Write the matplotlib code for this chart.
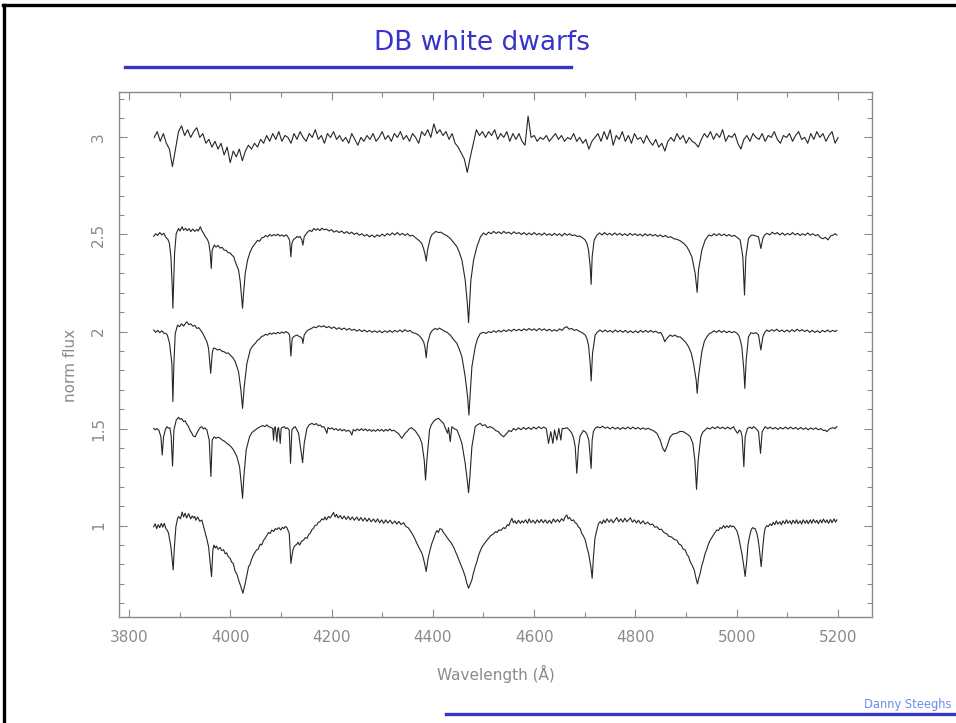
import numpy as np
import matplotlib
matplotlib.use("Agg")
import matplotlib.pyplot as plt
from matplotlib.ticker import MultipleLocator, FuncFormatter
from matplotlib.lines import Line2D

# Normalised DB white dwarf spectra (continuum = 1), stacked with vertical offsets.
# Noisy top star on an even grid, 3850-5200 A
flux_a = [
    1.00, 1.03, 0.98, 1.02, 0.97, 0.94, 0.85, 0.94, 1.03, 1.06,
    1.01, 1.04, 1.00, 1.03, 1.05, 1.00, 1.02, 0.97, 0.99, 0.95,
    0.98, 0.94, 0.97, 0.91, 0.95, 0.87, 0.93, 0.90, 0.94, 0.88,
    0.93, 0.96, 0.94, 0.97, 0.95, 0.99, 0.97, 1.01, 0.98, 1.02,
    0.99, 1.03, 0.98, 1.01, 1.00, 0.97, 1.02, 0.99, 1.03, 1.00,
    0.98, 1.02, 1.00, 1.04, 0.99, 1.01, 0.97, 1.02, 1.00, 1.03,
    0.99, 1.01, 0.98, 1.00, 0.97, 1.02, 0.99, 0.96, 1.00, 0.98,
    1.01, 0.99, 1.02, 0.98, 1.00, 1.03, 0.99, 1.01, 0.98, 1.02,
    1.00, 1.03, 0.99, 1.01, 0.98, 1.02, 1.00, 0.97, 1.03, 1.01,
    1.04, 1.00, 1.07, 1.02, 1.04, 1.01, 1.03, 0.99, 1.02, 0.97,
    0.95, 0.92, 0.89, 0.82, 0.90, 0.97, 1.04, 1.01, 1.03, 1.00,
    1.03, 1.01, 1.04, 0.99, 1.02, 1.00, 1.03, 0.98, 1.02, 0.99,
    1.02, 0.98, 0.96, 1.11, 1.00, 1.01, 0.98, 1.00, 0.99, 1.01,
    0.98, 1.00, 1.02, 0.99, 1.01, 0.98, 1.00, 0.99, 1.02, 0.98,
    1.00, 0.97, 0.99, 0.94, 0.98, 1.00, 1.02, 0.98, 1.03, 0.99,
    1.04, 0.96, 1.01, 0.99, 1.03, 0.98, 1.01, 0.97, 1.02, 0.99,
    1.00, 0.97, 1.01, 0.98, 0.96, 0.99, 0.95, 0.97, 0.93, 0.98,
    1.00, 0.98, 1.02, 0.99, 1.01, 0.97, 1.00, 0.98, 0.97, 0.95,
    0.99, 1.02, 1.00, 1.03, 0.99, 1.02, 1.00, 1.04, 0.98, 1.01,
    1.00, 1.02, 0.97, 0.94, 0.99, 1.01, 0.98, 1.02, 1.00, 0.99,
    1.02, 0.98, 1.01, 1.00, 1.03, 0.99, 0.97, 1.01, 1.00, 1.02,
    0.98, 1.01, 1.03, 0.99, 1.00, 0.97, 1.02, 0.99, 1.03, 1.00,
    1.02, 0.98, 1.01, 1.03, 0.97, 1.00,
]
wave_a = np.linspace(3850, 5200, len(flux_a))

# (wavelength, flux) vertices for the four cleaner stars
spec_b = [
    (3849, 0.990), (3853, 1.004), (3857, 0.995), (3861, 1.010), (3865, 0.998),
    (3869, 1.006), (3873, 0.985), (3877, 0.975), (3880, 0.955), (3883, 0.885),
    (3885.6, 0.731), (3886.9, 0.620), (3888.2, 0.731), (3890.2, 0.903), (3893.5, 1.006),
    (3898, 1.031), (3901, 1.018), (3905, 1.040), (3908, 1.022), (3912, 1.032),
    (3915, 1.020), (3919, 1.030), (3922, 1.015), (3926, 1.028), (3930, 1.016),
    (3934, 1.026), (3937, 1.018), (3941, 1.040), (3944, 1.020), (3947, 1.008),
    (3951, 0.988), (3955, 0.975), (3958, 0.954), (3960.6, 0.903), (3962.6, 0.825),
    (3964.5, 0.920), (3968.5, 0.946), (3972, 0.935), (3976, 0.944), (3980, 0.930),
    (3984, 0.934), (3988, 0.920), (3992, 0.918), (3996, 0.906), (4000, 0.905),
    (4004, 0.892), (4007, 0.886), (4010, 0.860), (4016.5, 0.817), (4019.8, 0.757),
    (4023.1, 0.662), (4024.4, 0.620), (4026.4, 0.697), (4029.7, 0.800), (4034.3, 0.868),
    (4039.5, 0.911), (4044, 0.935), (4049.4, 0.954), (4054, 0.970), (4058, 0.965),
    (4062, 0.982), (4066, 0.985), (4070, 0.995), (4074, 0.988), (4078, 1.000),
    (4082, 0.992), (4086, 1.000), (4090, 0.994), (4094, 1.002), (4098, 0.992),
    (4102, 0.998), (4106, 0.990), (4110, 0.998), (4113, 0.992), (4117.2, 0.971),
    (4119.8, 0.885), (4121.8, 0.954), (4125, 0.975), (4128.4, 0.980), (4132, 0.990),
    (4135, 0.985), (4138, 0.990), (4141.5, 0.971), (4143.5, 0.945), (4146.1, 0.988),
    (4149, 1.000), (4152, 1.010), (4157, 1.022), (4161, 1.015), (4165, 1.031),
    (4169, 1.022), (4173, 1.030), (4177, 1.020), (4181, 1.033), (4185, 1.024),
    (4190, 1.028), (4195, 1.018), (4200, 1.025), (4205, 1.012), (4210, 1.020),
    (4215, 1.010), (4220, 1.018), (4225, 1.006), (4230, 1.015), (4235, 1.004),
    (4240, 1.012), (4245, 1.000), (4250, 1.008), (4255, 0.996), (4260, 1.004),
    (4265, 0.992), (4270, 1.000), (4275, 0.988), (4280, 0.997), (4285, 0.986),
    (4290, 0.998), (4295, 0.990), (4300, 1.002), (4305, 0.992), (4310, 1.005),
    (4315, 0.996), (4320, 1.008), (4325, 0.998), (4330, 1.010), (4335, 0.997),
    (4340, 1.006), (4345, 0.995), (4350, 1.004), (4355, 0.992), (4360, 0.996),
    (4365, 0.985), (4371.8, 0.971), (4378, 0.955), (4381.7, 0.928), (4384.5, 0.900),
    (4386.9, 0.863), (4389.6, 0.920), (4394.9, 0.980), (4398, 0.998), (4401.4, 1.006),
    (4406, 1.016), (4411.3, 1.010), (4416, 1.012), (4421.2, 1.002), (4427, 0.995),
    (4434.3, 0.980), (4440, 0.962), (4447.5, 0.937), (4452, 0.910), (4457.4, 0.868),
    (4463.9, 0.765), (4468.6, 0.628), (4470.5, 0.546), (4472.5, 0.645), (4475.1, 0.765),
    (4480.4, 0.868), (4487.0, 0.937), (4494, 0.988), (4500, 1.008), (4505, 0.998),
    (4510, 1.012), (4515, 1.004), (4520, 1.016), (4525, 1.006), (4530, 1.014),
    (4535, 1.004), (4540, 1.016), (4545, 1.006), (4550, 1.012), (4555, 1.002),
    (4560, 1.014), (4565, 1.004), (4570, 1.010), (4575, 1.000), (4580, 1.010),
    (4585, 0.998), (4590, 1.008), (4595, 0.998), (4600, 1.010), (4605, 0.998),
    (4610, 1.006), (4615, 0.996), (4620, 1.008), (4625, 0.996), (4630, 1.004),
    (4635, 0.994), (4640, 1.006), (4645, 0.995), (4650, 1.004), (4655, 0.992),
    (4660, 1.006), (4665, 0.996), (4670, 1.004), (4675, 0.994), (4680, 0.998),
    (4685, 0.990), (4690, 0.992), (4694, 0.985), (4698, 0.978), (4700.7, 0.971),
    (4704, 0.955), (4707.3, 0.920), (4710.6, 0.834), (4712.5, 0.743), (4714.5, 0.885),
    (4718.4, 0.971), (4724, 0.997), (4729, 1.008), (4734, 0.998), (4739, 1.010),
    (4744, 0.998), (4749, 1.006), (4754, 0.996), (4759, 1.008), (4764, 0.997),
    (4769, 1.006), (4774, 0.995), (4779, 1.004), (4784, 0.994), (4789, 1.006),
    (4794, 0.996), (4799, 1.004), (4804, 0.994), (4809, 1.002), (4814, 0.992),
    (4819, 1.004), (4824, 0.994), (4829, 1.002), (4834, 0.992), (4839, 1.000),
    (4844, 0.990), (4849, 0.998), (4854, 0.988), (4859, 0.995), (4864, 0.985),
    (4870, 0.988), (4876, 0.978), (4882, 0.975), (4888, 0.968), (4895, 0.955),
    (4901.4, 0.937), (4906, 0.915), (4911.3, 0.885), (4917.8, 0.800), (4921.8, 0.702),
    (4924.4, 0.817), (4931.0, 0.920), (4937.6, 0.971), (4940, 0.980), (4945, 0.998),
    (4950, 0.992), (4955, 1.004), (4960, 0.994), (4965, 1.004), (4970, 0.994),
    (4975, 1.002), (4980, 0.992), (4985, 1.000), (4990, 0.990), (4995, 0.996),
    (5000, 0.986), (5004, 0.978), (5006.7, 0.971), (5011.9, 0.885), (5015.2, 0.688),
    (5017.8, 0.885), (5023.1, 0.980), (5028, 0.995), (5033, 0.997), (5038, 0.992),
    (5042.9, 0.988), (5047.5, 0.928), (5051.4, 0.980), (5055, 0.998), (5060, 1.006),
    (5065, 0.998), (5070, 1.012), (5075, 1.002), (5080, 1.010), (5085, 0.998),
    (5090, 1.008), (5095, 0.996), (5100, 1.006), (5105, 0.998), (5110, 1.010),
    (5115, 0.998), (5120, 1.006), (5125, 0.995), (5130, 1.004), (5135, 0.996),
    (5140, 1.008), (5145, 0.996), (5150, 1.004), (5155, 0.994), (5160, 1.000),
    (5165, 0.984), (5170, 0.978), (5175, 0.985), (5180, 0.972), (5185, 0.992),
    (5190, 0.997), (5194, 1.004), (5197.5, 0.997),
]

spec_c = [
    (3849, 1.008), (3853, 0.996), (3857, 1.006), (3861, 0.994), (3865, 1.004),
    (3869, 0.992), (3873, 0.990), (3876, 0.982), (3880.3, 0.939), (3884.9, 0.836),
    (3886.9, 0.639), (3888.9, 0.836), (3891.5, 0.990), (3896.1, 1.033), (3900, 1.025),
    (3904, 1.040), (3908, 1.028), (3911, 1.040), (3914.5, 1.050), (3918, 1.036),
    (3922, 1.040), (3926, 1.028), (3930, 1.032), (3934.3, 1.016), (3938, 1.020),
    (3942, 1.006), (3946, 0.990), (3950.7, 0.965), (3954, 0.948), (3957.3, 0.913),
    (3961.5, 0.785), (3964.5, 0.887), (3967, 0.915), (3970.5, 0.913), (3975, 0.905),
    (3980, 0.908), (3984, 0.898), (3988, 0.896), (3992, 0.888), (3996, 0.890),
    (4000.1, 0.879), (4005, 0.866), (4009.9, 0.845), (4016.5, 0.793), (4021.1, 0.699),
    (4024.4, 0.604), (4027.7, 0.716), (4033.0, 0.836), (4039.5, 0.905), (4044, 0.925),
    (4049.4, 0.939), (4054, 0.955), (4058, 0.962), (4062, 0.975), (4066, 0.978),
    (4070, 0.986), (4074, 0.982), (4078, 0.992), (4082, 0.986), (4086, 0.994),
    (4090, 0.988), (4094, 0.996), (4098, 0.990), (4102, 0.998), (4106, 0.992),
    (4110, 1.000), (4114, 0.994), (4117.2, 0.982), (4119.8, 0.874), (4122.4, 0.965),
    (4126, 0.975), (4131.7, 0.982), (4136, 0.975), (4140, 0.970), (4142.2, 0.962),
    (4143.5, 0.939), (4146.1, 0.982), (4150, 0.998), (4155, 1.010), (4160, 1.015),
    (4165, 1.024), (4170, 1.020), (4175, 1.030), (4180, 1.024), (4185, 1.030),
    (4190, 1.020), (4195, 1.026), (4200, 1.016), (4205, 1.024), (4210, 1.012),
    (4215, 1.020), (4220, 1.010), (4225, 1.018), (4230, 1.008), (4235, 1.016),
    (4240, 1.006), (4245, 1.012), (4250, 1.002), (4255, 1.010), (4260, 1.000),
    (4265, 1.008), (4270, 0.998), (4275, 1.006), (4280, 0.996), (4285, 1.004),
    (4290, 0.996), (4295, 1.004), (4300, 0.994), (4305, 1.004), (4310, 0.996),
    (4315, 1.006), (4320, 0.996), (4325, 1.006), (4330, 0.998), (4335, 1.008),
    (4340, 0.998), (4345, 1.010), (4350, 1.000), (4355, 1.006), (4360, 0.994),
    (4365, 0.992), (4371.8, 0.982), (4377, 0.968), (4381.7, 0.948), (4384.5, 0.920),
    (4386.9, 0.865), (4389.6, 0.939), (4394.9, 0.990), (4399, 1.006), (4404.7, 1.016),
    (4409, 1.010), (4413, 1.018), (4417.9, 1.010), (4423, 1.002), (4428, 0.996),
    (4434.3, 0.982), (4440, 0.962), (4447.5, 0.939), (4452, 0.910), (4457.4, 0.870),
    (4463.9, 0.767), (4468.6, 0.664), (4471.2, 0.570), (4473.8, 0.682), (4477.1, 0.819),
    (4483.7, 0.922), (4488, 0.962), (4493.6, 0.990), (4500, 0.996), (4505, 0.990),
    (4510, 1.000), (4515, 0.994), (4520, 1.004), (4525, 0.996), (4530, 1.006),
    (4535, 0.998), (4540, 1.008), (4545, 1.000), (4550, 1.010), (4555, 1.002),
    (4560, 1.012), (4565, 1.004), (4570, 1.012), (4575, 1.004), (4580, 1.014),
    (4585, 1.006), (4590, 1.016), (4595, 1.006), (4600, 1.014), (4605, 1.004),
    (4610, 1.016), (4615, 1.006), (4620, 1.014), (4625, 1.004), (4630, 1.012),
    (4635, 1.002), (4640, 1.010), (4645, 1.002), (4650, 1.014), (4655, 1.006),
    (4660, 1.020), (4664.5, 1.025), (4669, 1.012), (4674, 1.016), (4679, 1.006),
    (4684, 1.010), (4690, 1.000), (4695, 0.994), (4700.7, 0.982), (4704, 0.965),
    (4707.3, 0.930), (4710.6, 0.836), (4712.5, 0.745), (4715.2, 0.887), (4720.4, 0.982),
    (4725, 0.998), (4730.3, 1.008), (4735, 0.998), (4740, 1.008), (4745, 0.998),
    (4750, 1.006), (4755, 0.996), (4760, 1.008), (4765, 0.998), (4770, 1.006),
    (4775, 0.996), (4780, 1.006), (4785, 0.994), (4790, 1.004), (4795, 0.994),
    (4800, 1.004), (4805, 0.994), (4810, 1.006), (4815, 0.996), (4820, 1.006),
    (4825, 0.996), (4830, 1.006), (4835, 0.996), (4840, 1.002), (4845, 0.992),
    (4850, 0.995), (4854, 0.975), (4857.9, 0.948), (4862, 0.965), (4868.5, 0.982),
    (4873, 0.975), (4878, 0.982), (4883, 0.972), (4888.2, 0.973), (4894, 0.958),
    (4899, 0.945), (4904.7, 0.922), (4910, 0.890), (4914.5, 0.836), (4919.8, 0.750),
    (4921.8, 0.682), (4924.4, 0.767), (4931.0, 0.896), (4936, 0.950), (4940.9, 0.973),
    (4946, 0.990), (4950, 0.994), (4955, 1.004), (4960, 0.996), (4965, 1.006),
    (4970, 0.996), (4975, 1.004), (4980, 0.994), (4985, 1.002), (4990, 0.994),
    (4995, 1.000), (5000, 0.992), (5003.4, 0.982), (5006, 0.965), (5009.9, 0.922),
    (5013.9, 0.802), (5015.9, 0.707), (5018.5, 0.853), (5023.1, 0.973), (5028, 0.994),
    (5033.0, 0.990), (5038, 0.994), (5042.9, 0.982), (5047.5, 0.905), (5051.4, 0.973),
    (5055, 0.995), (5059.3, 1.008), (5064, 1.000), (5069, 1.010), (5074, 1.002),
    (5079, 1.012), (5084, 1.000), (5089, 1.008), (5094, 0.998), (5099, 1.008),
    (5104, 0.998), (5109, 1.010), (5114, 1.000), (5119, 1.012), (5124, 1.002),
    (5129, 1.010), (5134, 1.000), (5139, 1.008), (5144, 0.996), (5149, 1.006),
    (5154, 0.996), (5159, 1.004), (5164, 0.994), (5169, 1.006), (5174, 0.998),
    (5179, 1.008), (5184, 0.998), (5189, 1.006), (5194, 1.000), (5197.5, 1.006),
]

spec_d = [
    (3849, 1.001), (3852, 0.994), (3855, 1.000), (3859, 0.993), (3863.2, 0.958),
    (3865.8, 0.864), (3868.5, 0.958), (3871.8, 0.993), (3875, 1.010), (3878, 1.002),
    (3881, 1.004), (3883.6, 0.958), (3886.2, 0.807), (3888.9, 0.993), (3893.5, 1.044),
    (3898.1, 1.058), (3901, 1.048), (3904, 1.052), (3908, 1.036), (3911, 1.040),
    (3914, 1.025), (3917.8, 1.010), (3921, 0.990), (3924.4, 0.976), (3927, 0.962),
    (3931.0, 0.958), (3934, 0.975), (3937.6, 0.993), (3941, 1.006), (3944.1, 1.010),
    (3947, 0.998), (3950, 1.004), (3954.0, 0.993), (3958.6, 0.941), (3961.9, 0.753),
    (3964.5, 0.941), (3968.5, 0.958), (3972, 0.950), (3976, 0.956), (3980.3, 0.950),
    (3985, 0.940), (3989, 0.935), (3993.5, 0.924), (3998, 0.915), (4002, 0.906),
    (4006.6, 0.890), (4010, 0.872), (4013.2, 0.856), (4018.5, 0.804), (4021.8, 0.718),
    (4024.4, 0.641), (4027.0, 0.753), (4031.6, 0.890), (4038.2, 0.958), (4043, 0.980),
    (4049.4, 0.993), (4054, 1.002), (4059.3, 1.010), (4064, 1.016), (4068, 1.010),
    (4072.4, 1.019), (4076, 1.010), (4080, 1.006), (4084, 1.001), (4085.6, 0.941),
    (4087, 1.000), (4088.9, 1.010), (4092.2, 0.933), (4094, 1.000), (4095.5, 1.005),
    (4098.8, 0.924), (4100.5, 1.000), (4102.1, 1.005), (4106.7, 1.010), (4110, 1.000),
    (4113, 1.004), (4116.5, 0.993), (4119.1, 0.821), (4121.8, 0.993), (4125, 1.004),
    (4128.4, 1.010), (4132, 0.992), (4135.0, 0.976), (4139.6, 0.890), (4142.9, 0.825),
    (4146.1, 0.924), (4151.4, 1.001), (4156, 1.020), (4161.3, 1.027), (4166, 1.020),
    (4170, 1.026), (4174, 1.015), (4177.7, 1.019), (4181, 1.008), (4185, 1.010),
    (4188, 0.995), (4190.9, 0.976), (4193, 1.005), (4197, 0.998), (4201, 1.004),
    (4205, 0.994), (4209, 1.000), (4213, 0.990), (4217, 0.998), (4221, 0.988),
    (4225, 0.996), (4229, 0.986), (4233, 0.992), (4236.9, 0.984), (4240.2, 0.967),
    (4243, 0.995), (4247, 0.988), (4251, 0.998), (4255, 0.990), (4259, 1.000),
    (4263, 0.990), (4267, 0.998), (4271, 0.988), (4275, 0.996), (4279, 0.986),
    (4283, 0.994), (4287, 0.986), (4291, 0.996), (4295, 0.988), (4299, 0.996),
    (4303, 0.986), (4307, 0.996), (4311, 0.988), (4315, 0.998), (4319, 0.988),
    (4323, 0.992), (4327, 0.984), (4332, 0.975), (4338.9, 0.950), (4345, 0.975),
    (4348.8, 0.984), (4353, 0.998), (4358, 1.005), (4362, 0.995), (4365, 0.990),
    (4368.5, 0.976), (4374, 0.955), (4378.4, 0.924), (4383.0, 0.838), (4385.6, 0.735),
    (4388.3, 0.838), (4393.5, 0.993), (4397, 1.020), (4401.4, 1.036), (4406, 1.048),
    (4411.3, 1.053), (4416, 1.040), (4421.2, 1.027), (4425, 1.000), (4429.1, 0.976),
    (4431, 1.005), (4434.3, 0.933), (4437.6, 1.010), (4442, 1.000), (4447.5, 0.993),
    (4452, 0.965), (4457.4, 0.924), (4463.9, 0.821), (4467.9, 0.735), (4470.5, 0.670),
    (4473.2, 0.753), (4477.1, 0.907), (4483.7, 1.010), (4488, 1.020), (4493.6, 1.027),
    (4498, 1.015), (4503, 1.020), (4508, 1.005), (4513, 1.010), (4519.9, 1.001),
    (4524, 0.990), (4529, 0.985), (4534, 0.970), (4539.6, 0.958), (4546.2, 0.976),
    (4550, 0.990), (4555, 0.985), (4559.4, 1.001), (4564, 0.992), (4569, 1.004),
    (4574, 0.994), (4579, 1.006), (4584, 0.996), (4589, 1.006), (4594, 0.996),
    (4599, 1.008), (4604, 0.998), (4609, 1.010), (4614, 1.000), (4619, 1.008),
    (4624, 1.000), (4628.3, 0.924), (4632.9, 0.984), (4636.9, 0.924), (4640.2, 0.993),
    (4644.8, 0.941), (4648.7, 1.001), (4652.7, 0.941), (4655.3, 1.001), (4660, 1.000),
    (4664.5, 1.005), (4669, 0.995), (4674.4, 0.976), (4678, 0.950), (4681.0, 0.907),
    (4684.2, 0.770), (4687.5, 0.907), (4691, 0.965), (4694.1, 0.976), (4697, 0.990),
    (4700.7, 0.984), (4704, 0.972), (4707.9, 0.941), (4710.6, 0.856), (4712.5, 0.795),
    (4714.5, 0.941), (4717, 0.985), (4720.4, 1.001), (4725, 1.010), (4730.3, 1.004),
    (4735, 1.012), (4740, 1.002), (4745, 1.008), (4750, 0.998), (4755, 1.008),
    (4760, 0.998), (4765, 1.006), (4770, 0.996), (4775, 1.006), (4780, 0.998),
    (4785, 1.008), (4790, 0.998), (4795, 1.008), (4800, 0.998), (4805, 1.006),
    (4810, 0.996), (4815, 1.004), (4820, 0.996), (4825, 1.002), (4829, 0.996),
    (4835, 0.990), (4842.2, 0.976), (4848.7, 0.941), (4854.0, 0.898), (4857.9, 0.881),
    (4861.9, 0.907), (4868.5, 0.958), (4874, 0.972), (4881.6, 0.976), (4888, 0.986),
    (4894.8, 0.984), (4900, 0.975), (4904, 0.968), (4908.0, 0.958), (4913.2, 0.924),
    (4917.2, 0.838), (4920.5, 0.687), (4923.8, 0.838), (4929.0, 0.958), (4933, 0.982),
    (4937.6, 0.993), (4942, 1.004), (4947, 0.998), (4952, 1.008), (4957, 1.000),
    (4962, 1.010), (4967, 1.000), (4972, 1.008), (4977, 0.998), (4982, 1.008),
    (4987, 0.998), (4993.5, 1.010), (4996.8, 0.993), (5001.4, 0.976), (5005.3, 0.993),
    (5008, 0.985), (5010.6, 0.958), (5013.9, 0.804), (5016.5, 0.958), (5021.1, 1.001),
    (5026, 1.008), (5030, 1.000), (5033.0, 1.010), (5038, 1.000), (5042.9, 0.984),
    (5046.8, 0.873), (5050.1, 0.984), (5056.0, 1.010), (5061, 1.000), (5066, 1.008),
    (5071, 0.998), (5076, 1.006), (5081, 0.996), (5086, 1.006), (5091, 0.998),
    (5096, 1.008), (5101, 0.998), (5106, 1.008), (5111, 0.998), (5116, 1.006),
    (5121, 0.996), (5126, 1.006), (5131, 0.996), (5136, 1.004), (5141, 0.994),
    (5146, 1.004), (5151, 0.996), (5156, 1.004), (5161, 0.994), (5166, 1.000),
    (5171, 0.990), (5175, 0.992), (5177.7, 0.984), (5182, 0.996), (5186, 1.002),
    (5190, 1.005), (5194, 1.000), (5197.5, 1.010),
]

spec_e = [
    (3849, 0.995), (3852, 1.010), (3855, 0.985), (3858, 1.005), (3861, 0.990),
    (3864, 1.012), (3867, 0.992), (3870, 1.012), (3873, 0.985), (3876, 0.975),
    (3878.3, 0.961), (3882.9, 0.892), (3885.6, 0.824), (3887.5, 0.772), (3889.5, 0.875),
    (3892.8, 0.995), (3896, 1.035), (3898.1, 1.047), (3902, 1.035), (3905, 1.070),
    (3908, 1.045), (3911, 1.064), (3914, 1.040), (3918, 1.062), (3922, 1.035),
    (3925, 1.050), (3927.7, 1.040), (3930, 1.048), (3932, 1.028), (3936, 1.045),
    (3940, 1.022), (3944.1, 1.029), (3947, 1.000), (3950.7, 0.961), (3954, 0.930),
    (3957.3, 0.892), (3960.6, 0.806), (3963.2, 0.738), (3965.8, 0.875), (3968, 0.900),
    (3970.5, 0.885), (3973, 0.895), (3976, 0.878), (3980.3, 0.888), (3983, 0.872),
    (3986.9, 0.876), (3990.2, 0.855), (3993, 0.860), (3996, 0.842), (4000.1, 0.830),
    (4003, 0.812), (4006, 0.806), (4009.9, 0.764), (4013, 0.752), (4016.5, 0.721),
    (4021.1, 0.686), (4025.1, 0.652), (4029.7, 0.703), (4033, 0.745), (4036.3, 0.789),
    (4039, 0.800), (4042, 0.825), (4046.1, 0.850), (4049, 0.862), (4052, 0.875),
    (4055, 0.878), (4059.3, 0.905), (4062, 0.900), (4066, 0.925), (4069, 0.935),
    (4072, 0.948), (4075.7, 0.965), (4079, 0.960), (4082, 0.978), (4086, 0.970),
    (4089, 0.985), (4092.2, 0.980), (4096, 0.990), (4100, 0.978), (4103, 0.992),
    (4106, 0.985), (4109, 0.996), (4111.9, 0.990), (4116.5, 0.961), (4119.8, 0.806),
    (4123.8, 0.875), (4127, 0.895), (4131.7, 0.905), (4134, 0.915), (4137, 0.900),
    (4141, 0.920), (4144.8, 0.925), (4148, 0.938), (4152, 0.935), (4155, 0.955),
    (4158.0, 0.961), (4161, 0.978), (4164, 0.985), (4167, 1.000), (4171.1, 1.004),
    (4174, 1.018), (4177, 1.020), (4181, 1.035), (4184.3, 1.030), (4187, 1.045),
    (4190, 1.030), (4194, 1.048), (4197.5, 1.040), (4201, 1.055), (4204.0, 1.068),
    (4207, 1.045), (4210, 1.058), (4213, 1.040), (4217.2, 1.052), (4221, 1.035),
    (4225, 1.050), (4229, 1.032), (4233, 1.048), (4237, 1.030), (4241, 1.045),
    (4245, 1.028), (4250, 1.044), (4254, 1.026), (4258, 1.042), (4262, 1.024),
    (4266, 1.040), (4270, 1.022), (4274, 1.038), (4278, 1.020), (4283.0, 1.034),
    (4287, 1.018), (4291, 1.035), (4295, 1.015), (4299, 1.030), (4303, 1.012),
    (4307, 1.030), (4311, 1.014), (4315.9, 1.028), (4320, 1.010), (4325, 1.024),
    (4329, 1.008), (4333, 1.022), (4337, 1.006), (4342.2, 1.015), (4347, 0.995),
    (4351, 0.990), (4355.4, 0.975), (4360, 0.955), (4364, 0.935), (4368.5, 0.909),
    (4373, 0.885), (4378.4, 0.858), (4381, 0.835), (4383.7, 0.806), (4386.9, 0.764),
    (4390.2, 0.824), (4394, 0.870), (4398.1, 0.909), (4402, 0.935), (4405, 0.960),
    (4408.0, 0.975), (4411, 0.965), (4414, 0.985), (4417.9, 0.980), (4421, 0.965),
    (4424, 0.955), (4427.8, 0.940), (4432, 0.925), (4436, 0.912), (4440.9, 0.890),
    (4445, 0.865), (4449, 0.840), (4454.1, 0.806), (4459, 0.775), (4463.9, 0.738),
    (4467, 0.705), (4470.5, 0.678), (4474, 0.700), (4477.1, 0.721), (4480, 0.755),
    (4483.7, 0.789), (4487, 0.815), (4490, 0.845), (4493.6, 0.870), (4497, 0.890),
    (4501, 0.905), (4506.7, 0.925), (4510, 0.935), (4514, 0.948), (4519.9, 0.958),
    (4524, 0.970), (4527, 0.965), (4530, 0.978), (4534, 0.975), (4539.6, 0.990),
    (4543, 0.985), (4547, 1.005), (4550, 1.000), (4553, 1.020), (4556.1, 1.038),
    (4559, 1.015), (4562, 1.025), (4565, 1.010), (4569, 1.028), (4573, 1.012),
    (4576, 1.025), (4579.1, 1.015), (4583, 1.030), (4587, 1.012), (4590, 1.035),
    (4594, 1.015), (4598, 1.028), (4602, 1.012), (4606, 1.030), (4610, 1.015),
    (4614, 1.032), (4618, 1.015), (4622, 1.030), (4626, 1.012), (4630, 1.028),
    (4634, 1.012), (4638, 1.035), (4642, 1.018), (4646, 1.032), (4650, 1.018),
    (4654, 1.036), (4658, 1.025), (4661, 1.045), (4664.5, 1.055), (4667, 1.035),
    (4670, 1.042), (4674, 1.025), (4677.7, 1.030), (4681, 1.015), (4684, 1.010),
    (4687, 0.995), (4690.8, 0.985), (4694, 0.960), (4697, 0.948), (4700.7, 0.927),
    (4704, 0.890), (4707.3, 0.858), (4711.9, 0.789), (4714.5, 0.729), (4717.1, 0.841),
    (4720, 0.935), (4723.7, 0.978), (4727, 1.010), (4730.3, 1.021), (4734, 1.010),
    (4737, 1.030), (4740, 1.015), (4744, 1.035), (4748, 1.018), (4752, 1.032),
    (4756, 1.015), (4760, 1.030), (4763, 1.042), (4767, 1.020), (4771, 1.035),
    (4775, 1.018), (4779, 1.038), (4783, 1.020), (4787, 1.032), (4790, 1.040),
    (4794, 1.018), (4798, 1.030), (4802, 1.014), (4806, 1.028), (4810, 1.010),
    (4815, 1.025), (4819, 1.008), (4824, 1.018), (4829, 1.005), (4834, 1.008),
    (4838, 0.992), (4842.2, 0.995), (4847, 0.980), (4851, 0.982), (4856, 0.965),
    (4861.9, 0.958), (4866, 0.945), (4871, 0.942), (4876, 0.930), (4881.6, 0.925),
    (4886, 0.905), (4890, 0.900), (4894, 0.880), (4898.1, 0.875), (4902, 0.850),
    (4905, 0.840), (4908.0, 0.815), (4912, 0.795), (4915.9, 0.772), (4919, 0.735),
    (4922.4, 0.700), (4925, 0.730), (4927.7, 0.755), (4931, 0.795), (4934, 0.820),
    (4937.6, 0.858), (4941, 0.880), (4944, 0.905), (4947.4, 0.925), (4951, 0.940),
    (4954, 0.952), (4957, 0.965), (4960.6, 0.978), (4964, 0.975), (4967, 0.990),
    (4970, 0.985), (4974, 1.000), (4977, 0.988), (4980.3, 1.000), (4984, 0.990),
    (4987, 1.002), (4990, 0.994), (4993.5, 0.998), (4997, 0.985), (5000, 0.975),
    (5003.4, 0.944), (5006, 0.910), (5009.9, 0.858), (5013.9, 0.789), (5016.5, 0.738),
    (5019.8, 0.824), (5022, 0.900), (5025.1, 0.944), (5028, 0.975), (5031, 0.990),
    (5033.0, 0.987), (5036, 0.985), (5039.6, 0.961), (5042, 0.930), (5044.8, 0.875),
    (5048.1, 0.789), (5051.4, 0.892), (5054, 0.960), (5056.0, 0.987), (5059, 1.000),
    (5062, 0.995), (5065.9, 1.010), (5069, 1.000), (5072, 1.018), (5075, 1.005),
    (5078, 1.025), (5081, 1.008), (5085, 1.020), (5088, 1.004), (5091, 1.025),
    (5095, 1.010), (5098, 1.030), (5101, 1.012), (5105, 1.025), (5108, 1.008),
    (5111, 1.028), (5115, 1.012), (5118, 1.030), (5121, 1.010), (5125, 1.025),
    (5128, 1.008), (5131, 1.030), (5135, 1.012), (5138, 1.028), (5141, 1.010),
    (5145, 1.030), (5148, 1.012), (5151, 1.032), (5155, 1.015), (5158, 1.028),
    (5161, 1.010), (5165, 1.030), (5168, 1.014), (5171, 1.034), (5175, 1.016),
    (5178, 1.030), (5181, 1.012), (5185, 1.032), (5188, 1.015), (5192, 1.035),
    (5195, 1.018), (5197.5, 1.030),
]

offsets = [2.0, 1.5, 1.0, 0.5, 0.0]

blue = "#3535c8"
grey = "#8a8a8a"

fig = plt.figure(figsize=(9.56, 7.23), dpi=100)

# slide frame, title and footer
fig.add_artist(Line2D([0.003, 1.0], [0.9925, 0.9925], color="black", lw=2.4))
fig.add_artist(Line2D([0.0045, 0.0045], [0.0, 0.9935], color="black", lw=2.4))
fig.text(0.504, 0.941, "DB white dwarfs", color=blue, fontsize=19,
         ha="center", va="center")
fig.add_artist(Line2D([0.131, 0.597], [0.907, 0.907], color=blue, lw=2.4))
fig.text(0.995, 0.026, "Danny Steeghs", color="#6a8cf0", fontsize=8.3,
         ha="right", va="center")
fig.add_artist(Line2D([0.467, 1.0], [0.0125, 0.0125], color=blue, lw=2.4))

ax = fig.add_axes([0.1242, 0.1462, 0.788, 0.726])

spectra = [(wave_a, np.array(flux_a))]
for spec in (spec_b, spec_c, spec_d, spec_e):
    w, f = np.array(spec).T
    spectra.append((w, f))

for (w, f), off in zip(spectra, offsets):
    ax.plot(w, f + off, color="#262626", lw=0.8)

ax.set_xlim(3780, 5267)
ax.set_ylim(0.528, 3.232)

ax.xaxis.set_major_locator(MultipleLocator(200))
ax.xaxis.set_minor_locator(MultipleLocator(100))
ax.yaxis.set_major_locator(MultipleLocator(0.5))
ax.yaxis.set_minor_locator(MultipleLocator(0.1))
ax.yaxis.set_major_formatter(FuncFormatter(lambda v, p: f"{v:g}"))

for s in ax.spines.values():
    s.set_color(grey)
    s.set_linewidth(1.0)
ax.tick_params(which="both", direction="in", top=True, right=True,
               color=grey, labelcolor=grey, labelsize=11)
ax.tick_params(which="major", length=6, width=0.8, pad=9)
ax.tick_params(which="minor", length=3.5, width=0.8)
for lab in ax.get_yticklabels():
    lab.set_rotation(90)
    lab.set_va("center")

ax.set_xlabel("Wavelength (Å)", color=grey, fontsize=11)
ax.set_ylabel("norm flux", color=grey, fontsize=11)
ax.xaxis.set_label_coords(0.5, -0.091)
ax.yaxis.set_label_coords(-0.054, 0.48)

fig.savefig("out.png", dpi=100)
